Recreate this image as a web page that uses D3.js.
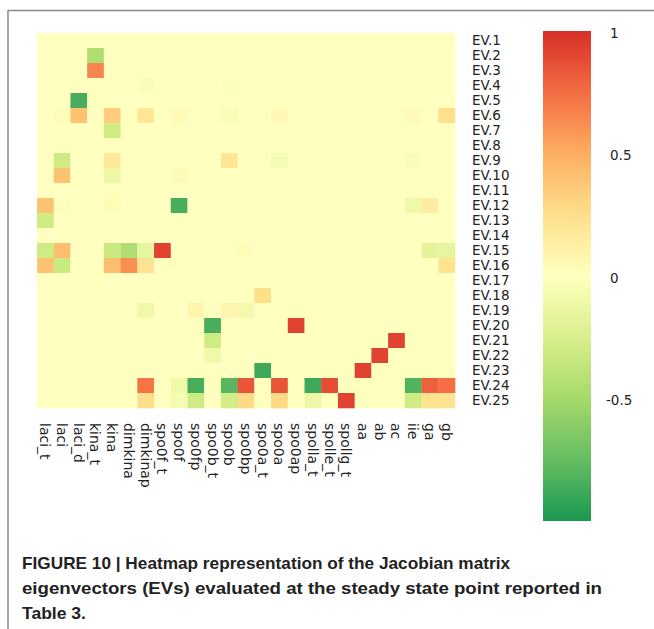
<!DOCTYPE html>
<html>
<head>
<meta charset="utf-8">
<script src="https://cdn.jsdelivr.net/npm/d3@7"></script>
<style>
  html, body { margin: 0; padding: 0; background: #fff; }
  svg { display: block; }
</style>
</head>
<body>
<div id="chart"></div>
<script>
// ---- data ----
const variables = ["laci_t","laci","laci_d","kina_t","kina","dimkina","dimkinap","spo0f_t","spo0f","spo0fp",
  "spo0b_t","spo0b","spo0bp","spo0a_t","spo0a","spo0ap","spolla_t","spolle_t","spollg_t","aa","ab","ac","iie","ga","gb"];
const eigenvectors = d3.range(1, 26).map(i => "EV." + i);
const colorbarTicks = [1, 0.5, 0, -0.5];
// non-zero entries: [EV index (0-based), variable index, value]
const nonZero = [
  [1,3,-0.45],
  [2,3,0.65],
  [3,6,-0.03],[3,11,-0.02],
  [4,2,-0.85],
  [5,1,0.03],[5,2,0.4],[5,4,0.35],[5,6,0.2],[5,8,0.04],[5,11,-0.04],[5,14,0.05],[5,22,0.04],[5,24,0.25],
  [6,4,-0.3],
  [8,1,-0.3],[8,4,0.18],[8,11,0.2],[8,14,-0.06],[8,22,-0.03],
  [9,1,0.4],[9,4,-0.12],[9,8,0.03],
  [11,0,0.4],[11,1,0.02],[11,4,0.03],[11,8,-0.85],[11,22,-0.1],[11,23,0.15],
  [12,0,-0.3],
  [14,0,-0.3],[14,1,0.42],[14,4,-0.32],[14,5,-0.45],[14,6,-0.15],[14,7,0.92],[14,12,0.03],[14,23,-0.18],[14,24,-0.15],
  [15,0,0.4],[15,1,-0.32],[15,4,0.42],[15,5,0.62],[15,6,0.22],[15,24,0.22],
  [17,13,0.25],
  [18,6,-0.1],[18,9,0.08],[18,11,0.08],[18,12,-0.08],
  [19,10,-0.85],[19,15,0.92],
  [20,10,-0.3],[20,21,0.92],
  [21,10,-0.1],[21,20,0.92],
  [22,13,-0.88],[22,19,0.92],
  [23,6,0.72],[23,8,-0.1],[23,9,-0.85],[23,11,-0.8],[23,12,0.85],[23,14,0.85],[23,16,-0.88],[23,17,0.88],[23,22,-0.82],[23,23,0.8],[23,24,0.75],
  [24,6,0.25],[24,8,-0.06],[24,9,-0.3],[24,11,-0.28],[24,12,0.28],[24,14,0.28],[24,16,-0.12],[24,18,0.92],[24,22,-0.3],[24,23,0.22],[24,24,0.22]
];
const captionLines = [
  "FIGURE 10 | Heatmap representation of the Jacobian matrix",
  "eigenvectors (EVs) evaluated at the steady state point reported in",
  "Table 3."
];

// build the full matrix
const matrix = eigenvectors.map(() => variables.map(() => 0));
nonZero.forEach(([r, c, v]) => { matrix[r][c] = v; });
const cells = [];
matrix.forEach((row, r) => row.forEach((v, c) => cells.push({ r, c, v })));

// ---- layout ----
const W = 654, H = 629;
const svg = d3.select("#chart").append("svg").attr("width", W).attr("height", H);

const x = d3.scaleBand().domain(variables).range([37, 455]);
const y = d3.scaleBand().domain(eigenvectors).range([33, 408]);

const palette = d3.schemeRdYlGn[9];
const color = d3.scaleLinear()
  .domain(d3.range(9).map(i => 1 - i * 0.25))
  .range(palette)
  .clamp(true);

const font = "'DejaVu Sans', sans-serif";

// frame
svg.append("line").attr("x1", 8).attr("x2", W).attr("y1", 10.5).attr("y2", 10.5)
  .attr("stroke", "#8a8a8a").attr("stroke-width", 1.5);
svg.append("line").attr("x1", 8).attr("x2", 8).attr("y1", 10).attr("y2", H)
  .attr("stroke", "#8a8a8a").attr("stroke-width", 1.5);

// cells
svg.append("g").selectAll("rect").data(cells).join("rect")
  .attr("x", d => x(variables[d.c]))
  .attr("y", d => y(eigenvectors[d.r]))
  .attr("width", x.bandwidth() + 0.3)
  .attr("height", y.bandwidth() + 0.3)
  .attr("fill", d => color(d.v));

// row labels (right)
svg.append("g").selectAll("text").data(eigenvectors).join("text")
  .attr("x", 472)
  .attr("y", d => y(d) + y.bandwidth() / 2)
  .attr("dy", "0.36em")
  .attr("font-family", font).attr("font-size", 13.5).attr("fill", "#222")
  .text(d => d);

// column labels (bottom, rotated)
svg.append("g").selectAll("text").data(variables).join("text")
  .attr("transform", d => `translate(${x(d) + x.bandwidth() / 2},423) rotate(90)`)
  .attr("dy", "0.36em")
  .attr("font-family", font).attr("font-size", 14).attr("fill", "#222")
  .text(d => d);

// colorbar
const cb = d3.scaleLinear().domain([1, -1]).range([31, 521]);
const defs = svg.append("defs");
const grad = defs.append("linearGradient").attr("id", "cbgrad")
  .attr("x1", 0).attr("y1", 0).attr("x2", 0).attr("y2", 1);
grad.selectAll("stop").data(d3.range(0, 21)).join("stop")
  .attr("offset", i => i / 20)
  .attr("stop-color", i => color(1 - i / 10));
svg.append("rect").attr("x", 543).attr("y", cb(1)).attr("width", 48)
  .attr("height", cb(-1) - cb(1)).attr("fill", "url(#cbgrad)");
svg.append("g").selectAll("text").data(colorbarTicks).join("text")
  .attr("x", d => d < 0 ? 606 : 610)
  .attr("y", d => cb(d) + 2)
  .attr("dy", "0.36em")
  .attr("font-family", font).attr("font-size", 13.5).attr("fill", "#222")
  .text(d => d3.format("")(d).replace("\u2212", "-"));

// caption
const captionWidths = [488, 580, 64];
svg.append("g").selectAll("text").data(captionLines).join("text")
  .attr("x", 22)
  .attr("y", (d, i) => 569 + i * 25)
  .attr("font-family", "'Liberation Sans', Arial, sans-serif")
  .attr("font-weight", "bold").attr("font-size", 17).attr("fill", "#222")
  .attr("textLength", (d, i) => captionWidths[i])
  .attr("lengthAdjust", "spacingAndGlyphs")
  .text(d => d);
</script>
</body>
</html>
